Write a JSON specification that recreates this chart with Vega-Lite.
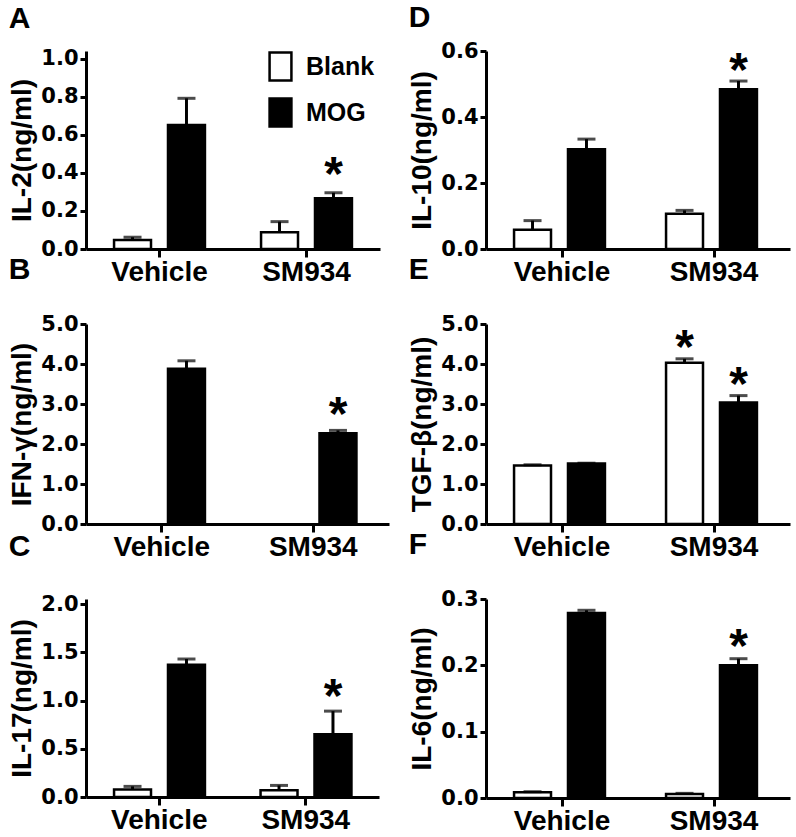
{
  "$schema": "https://vega.github.io/schema/vega-lite/v6.json",
  "padding": {"left": 8, "top": 3, "right": 5, "bottom": 0},
  "background": "white",
  "config": {
    "view": {"stroke": null},
    "axis": {"grid": false, "domainColor": "black", "domainWidth": 3, "tickColor": "black", "tickWidth": 3, "labelColor": "black", "titleColor": "black", "labelOverlap": false, "labelSeparation": 0},
    "axisY": {"labelFont": "DejaVu Sans", "labelFontWeight": "bold", "labelFontSize": 21, "tickSize": 6, "labelPadding": 2, "titleFont": "Liberation Sans", "titleFontWeight": "bold", "titleFontSize": 28, "titlePadding": 4, "format": ".1f", "labelOverlap": false},
    "axisX": {"labelFont": "Liberation Sans", "labelFontWeight": "bold", "labelFontSize": 28, "tickSize": 8, "labelPadding": 1, "labelAngle": 0, "title": null},
    "title": {"font": "Liberation Sans", "fontWeight": "bold", "fontSize": 30, "anchor": "start", "frame": "bounds", "color": "black"}
  },
  "datasets": {
    "d": [
      {"panel": "A", "group": "Vehicle", "cond": "Blank", "value": 0.047, "upper": 0.062, "star": 0},
      {"panel": "A", "group": "Vehicle", "cond": "MOG", "value": 0.653, "upper": 0.793, "star": 0},
      {"panel": "A", "group": "SM934", "cond": "Blank", "value": 0.088, "upper": 0.144, "star": 0},
      {"panel": "A", "group": "SM934", "cond": "MOG", "value": 0.267, "upper": 0.296, "star": 1},
      {"panel": "B", "group": "Vehicle", "cond": "MOG", "value": 3.88, "upper": 4.08, "star": 0},
      {"panel": "B", "group": "SM934", "cond": "MOG", "value": 2.27, "upper": 2.34, "star": 1},
      {"panel": "C", "group": "Vehicle", "cond": "Blank", "value": 0.077, "upper": 0.11, "star": 0},
      {"panel": "C", "group": "Vehicle", "cond": "MOG", "value": 1.37, "upper": 1.43, "star": 0},
      {"panel": "C", "group": "SM934", "cond": "Blank", "value": 0.07, "upper": 0.12, "star": 0},
      {"panel": "C", "group": "SM934", "cond": "MOG", "value": 0.65, "upper": 0.89, "star": 1},
      {"panel": "D", "group": "Vehicle", "cond": "Blank", "value": 0.058, "upper": 0.086, "star": 0},
      {"panel": "D", "group": "Vehicle", "cond": "MOG", "value": 0.302, "upper": 0.333, "star": 0},
      {"panel": "D", "group": "SM934", "cond": "Blank", "value": 0.107, "upper": 0.117, "star": 0},
      {"panel": "D", "group": "SM934", "cond": "MOG", "value": 0.484, "upper": 0.509, "star": 1},
      {"panel": "E", "group": "Vehicle", "cond": "Blank", "value": 1.46, "upper": 1.48, "star": 0},
      {"panel": "E", "group": "Vehicle", "cond": "MOG", "value": 1.51, "upper": 1.52, "star": 0},
      {"panel": "E", "group": "SM934", "cond": "Blank", "value": 4.03, "upper": 4.13, "star": 1},
      {"panel": "E", "group": "SM934", "cond": "MOG", "value": 3.04, "upper": 3.21, "star": 1},
      {"panel": "F", "group": "Vehicle", "cond": "Blank", "value": 0.0086, "upper": 0.0095, "star": 0},
      {"panel": "F", "group": "Vehicle", "cond": "MOG", "value": 0.279, "upper": 0.283, "star": 0},
      {"panel": "F", "group": "SM934", "cond": "Blank", "value": 0.006, "upper": 0.007, "star": 0},
      {"panel": "F", "group": "SM934", "cond": "MOG", "value": 0.2, "upper": 0.21, "star": 1}
    ]
  },
  "bounds": "flush",
  "columns": 2,
  "spacing": {"row": 75, "column": 97},
  "resolve": {"scale": {"fill": "independent"}, "legend": {"fill": "independent"}},
  "concat": [
    {
      "title": {"text": "A", "offset": 14},
      "width": 294, "height": 198,
      "data": {"name": "d"},
      "transform": [{"filter": "datum.panel === 'A'"}],
      "encoding": {
        "x": {"field": "group", "type": "nominal", "sort": ["Vehicle", "SM934"], "scale": {"paddingInner": 0, "paddingOuter": 0}},
        "xOffset": {"field": "cond", "type": "nominal", "sort": ["Blank", "MOG"], "scale": {"domain": ["Blank", "MOG"], "paddingInner": 0.315, "paddingOuter": 0.52}}
      },
      "layer": [
        {"mark": {"type": "bar", "stroke": "black", "strokeWidth": 2.5},
         "encoding": {
           "y": {"field": "value", "type": "quantitative", "title": "IL-2(ng/ml)", "scale": {"domain": [0, 1.042], "nice": false}, "axis": {"values": [0, 0.2, 0.4, 0.6, 0.8, 1.0], "labelOverlap": false}},
           "fill": {"field": "cond", "type": "nominal", "scale": {"domain": ["Blank", "MOG"], "range": ["white", "black"]},
             "legend": {"title": null, "orient": "none", "legendX": 179, "legendY": 0, "symbolType": "M-0.78,-1L0.78,-1L0.78,1L-0.78,1Z", "symbolSize": 784, "symbolStrokeColor": "black", "symbolStrokeWidth": 2.5, "labelFont": "Liberation Sans", "labelFontWeight": "bold", "labelFontSize": 25, "labelColor": "black", "rowPadding": 7, "labelOffset": 10}}
         }},
        {"mark": {"type": "rule", "strokeWidth": 3, "color": "black"}, "encoding": {"y": {"field": "value", "type": "quantitative", "axis": {"values": [0, 0.2, 0.4, 0.6, 0.8, 1.0], "labelOverlap": false}}, "y2": {"field": "upper"}}},
        {"mark": {"type": "tick", "size": 18, "thickness": 3, "color": "black"}, "encoding": {"y": {"field": "upper", "type": "quantitative", "axis": {"values": [0, 0.2, 0.4, 0.6, 0.8, 1.0], "labelOverlap": false}}}},
        {"transform": [{"filter": "datum.star === 1"}], "mark": {"type": "text", "text": "*", "font": "Liberation Sans", "fontWeight": "bold", "fontSize": 48, "baseline": "alphabetic", "dy": -3, "color": "black"}, "encoding": {"y": {"field": "upper", "type": "quantitative", "axis": {"values": [0, 0.2, 0.4, 0.6, 0.8, 1.0], "labelOverlap": false}}}}
      ]
    },
    {
      "title": {"text": "D", "offset": 7},
      "width": 304, "height": 198,
      "data": {"name": "d"},
      "transform": [{"filter": "datum.panel === 'D'"}],
      "encoding": {
        "x": {"field": "group", "type": "nominal", "sort": ["Vehicle", "SM934"], "scale": {"paddingInner": 0, "paddingOuter": 0}},
        "xOffset": {"field": "cond", "type": "nominal", "scale": {"domain": ["Blank", "MOG"], "paddingInner": 0.3, "paddingOuter": 0.52}}
      },
      "layer": [
        {"mark": {"type": "bar", "stroke": "black", "strokeWidth": 2.5},
         "encoding": {
           "y": {"field": "value", "type": "quantitative", "title": "IL-10(ng/ml)", "scale": {"domain": [0, 0.6], "nice": false}, "axis": {"values": [0, 0.2, 0.4, 0.6], "labelOverlap": false}},
           "fill": {"field": "cond", "type": "nominal", "scale": {"domain": ["Blank", "MOG"], "range": ["white", "black"]}, "legend": null}
         }},
        {"mark": {"type": "rule", "strokeWidth": 3, "color": "black"}, "encoding": {"y": {"field": "value", "type": "quantitative"}, "y2": {"field": "upper"}}},
        {"mark": {"type": "tick", "size": 18, "thickness": 3, "color": "black"}, "encoding": {"y": {"field": "upper", "type": "quantitative"}}},
        {"transform": [{"filter": "datum.star === 1"}], "mark": {"type": "text", "text": "*", "font": "Liberation Sans", "fontWeight": "bold", "fontSize": 48, "baseline": "alphabetic", "dy": 5, "color": "black"}, "encoding": {"y": {"field": "upper", "type": "quantitative"}}}
      ]
    },
    {
      "title": {"text": "B", "offset": 28},
      "width": 303, "height": 200,
      "data": {"name": "d"},
      "transform": [{"filter": "datum.panel === 'B'"}],
      "encoding": {
        "x": {"field": "group", "type": "nominal", "sort": ["Vehicle", "SM934"], "scale": {"domain": ["Vehicle", "SM934"], "paddingInner": 0, "paddingOuter": 0}},
        "xOffset": {"field": "cond", "type": "nominal", "scale": {"domain": ["Blank", "MOG"], "paddingInner": 0.3, "paddingOuter": 0.52}}
      },
      "layer": [
        {"mark": {"type": "bar", "stroke": "black", "strokeWidth": 2.5},
         "encoding": {
           "y": {"field": "value", "type": "quantitative", "title": "IFN-γ(ng/ml)", "scale": {"domain": [0, 5], "nice": false}, "axis": {"values": [0, 1, 2, 3, 4, 5], "labelOverlap": false}},
           "fill": {"field": "cond", "type": "nominal", "scale": {"domain": ["Blank", "MOG"], "range": ["white", "black"]}, "legend": null}
         }},
        {"mark": {"type": "rule", "strokeWidth": 3, "color": "black"}, "encoding": {"y": {"field": "value", "type": "quantitative", "axis": {"values": [0, 1, 2, 3, 4, 5], "labelOverlap": false}}, "y2": {"field": "upper"}}},
        {"mark": {"type": "tick", "size": 18, "thickness": 3, "color": "black"}, "encoding": {"y": {"field": "upper", "type": "quantitative", "axis": {"values": [0, 1, 2, 3, 4, 5], "labelOverlap": false}}}},
        {"transform": [{"filter": "datum.star === 1"}], "mark": {"type": "text", "text": "*", "font": "Liberation Sans", "fontWeight": "bold", "fontSize": 48, "baseline": "alphabetic", "dy": 0, "color": "black"}, "encoding": {"y": {"field": "upper", "type": "quantitative", "axis": {"values": [0, 1, 2, 3, 4, 5], "labelOverlap": false}}}}
      ]
    },
    {
      "title": {"text": "E", "offset": 28},
      "width": 304, "height": 200,
      "data": {"name": "d"},
      "transform": [{"filter": "datum.panel === 'E'"}],
      "encoding": {
        "x": {"field": "group", "type": "nominal", "sort": ["Vehicle", "SM934"], "scale": {"paddingInner": 0, "paddingOuter": 0}},
        "xOffset": {"field": "cond", "type": "nominal", "scale": {"domain": ["Blank", "MOG"], "paddingInner": 0.3, "paddingOuter": 0.52}}
      },
      "layer": [
        {"mark": {"type": "bar", "stroke": "black", "strokeWidth": 2.5},
         "encoding": {
           "y": {"field": "value", "type": "quantitative", "title": "TGF-β(ng/ml)", "scale": {"domain": [0, 5], "nice": false}, "axis": {"values": [0, 1, 2, 3, 4, 5], "labelOverlap": false}},
           "fill": {"field": "cond", "type": "nominal", "scale": {"domain": ["Blank", "MOG"], "range": ["white", "black"]}, "legend": null}
         }},
        {"mark": {"type": "rule", "strokeWidth": 3, "color": "black"}, "encoding": {"y": {"field": "value", "type": "quantitative", "axis": {"values": [0, 1, 2, 3, 4, 5], "labelOverlap": false}}, "y2": {"field": "upper"}}},
        {"mark": {"type": "tick", "size": 18, "thickness": 3, "color": "black"}, "encoding": {"y": {"field": "upper", "type": "quantitative", "axis": {"values": [0, 1, 2, 3, 4, 5], "labelOverlap": false}}}},
        {"transform": [{"filter": "datum.star === 1"}], "mark": {"type": "text", "text": "*", "font": "Liberation Sans", "fontWeight": "bold", "fontSize": 48, "baseline": "alphabetic", "dy": 4, "color": "black"}, "encoding": {"y": {"field": "upper", "type": "quantitative", "axis": {"values": [0, 1, 2, 3, 4, 5], "labelOverlap": false}}}}
      ]
    },
    {
      "title": {"text": "C", "offset": 31},
      "width": 293, "height": 198,
      "data": {"name": "d"},
      "transform": [{"filter": "datum.panel === 'C'"}],
      "encoding": {
        "x": {"field": "group", "type": "nominal", "sort": ["Vehicle", "SM934"], "scale": {"paddingInner": 0, "paddingOuter": 0}},
        "xOffset": {"field": "cond", "type": "nominal", "scale": {"domain": ["Blank", "MOG"], "paddingInner": 0.315, "paddingOuter": 0.52}}
      },
      "layer": [
        {"mark": {"type": "bar", "stroke": "black", "strokeWidth": 2.5},
         "encoding": {
           "y": {"field": "value", "type": "quantitative", "title": "IL-17(ng/ml)", "scale": {"domain": [0, 2.052], "nice": false}, "axis": {"values": [0, 0.5, 1, 1.5, 2], "labelOverlap": false}},
           "fill": {"field": "cond", "type": "nominal", "scale": {"domain": ["Blank", "MOG"], "range": ["white", "black"]}, "legend": null}
         }},
        {"mark": {"type": "rule", "strokeWidth": 3, "color": "black"}, "encoding": {"y": {"field": "value", "type": "quantitative"}, "y2": {"field": "upper"}}},
        {"mark": {"type": "tick", "size": 18, "thickness": 3, "color": "black"}, "encoding": {"y": {"field": "upper", "type": "quantitative"}}},
        {"transform": [{"filter": "datum.star === 1"}], "mark": {"type": "text", "text": "*", "font": "Liberation Sans", "fontWeight": "bold", "fontSize": 48, "baseline": "alphabetic", "dy": 1, "color": "black"}, "encoding": {"y": {"field": "upper", "type": "quantitative"}}}
      ]
    },
    {
      "title": {"text": "F", "offset": 28},
      "width": 304, "height": 199,
      "data": {"name": "d"},
      "transform": [{"filter": "datum.panel === 'F'"}],
      "encoding": {
        "x": {"field": "group", "type": "nominal", "sort": ["Vehicle", "SM934"], "scale": {"paddingInner": 0, "paddingOuter": 0}},
        "xOffset": {"field": "cond", "type": "nominal", "scale": {"domain": ["Blank", "MOG"], "paddingInner": 0.3, "paddingOuter": 0.52}}
      },
      "layer": [
        {"mark": {"type": "bar", "stroke": "black", "strokeWidth": 2.5},
         "encoding": {
           "y": {"field": "value", "type": "quantitative", "title": "IL-6(ng/ml)", "scale": {"domain": [0, 0.3], "nice": false}, "axis": {"values": [0, 0.1, 0.2, 0.3], "labelOverlap": false}},
           "fill": {"field": "cond", "type": "nominal", "scale": {"domain": ["Blank", "MOG"], "range": ["white", "black"]}, "legend": null}
         }},
        {"mark": {"type": "rule", "strokeWidth": 3, "color": "black"}, "encoding": {"y": {"field": "value", "type": "quantitative"}, "y2": {"field": "upper"}}},
        {"mark": {"type": "tick", "size": 18, "thickness": 3, "color": "black"}, "encoding": {"y": {"field": "upper", "type": "quantitative"}}},
        {"transform": [{"filter": "datum.star === 1"}], "mark": {"type": "text", "text": "*", "font": "Liberation Sans", "fontWeight": "bold", "fontSize": 48, "baseline": "alphabetic", "dy": 3, "color": "black"}, "encoding": {"y": {"field": "upper", "type": "quantitative"}}}
      ]
    }
  ]
}
